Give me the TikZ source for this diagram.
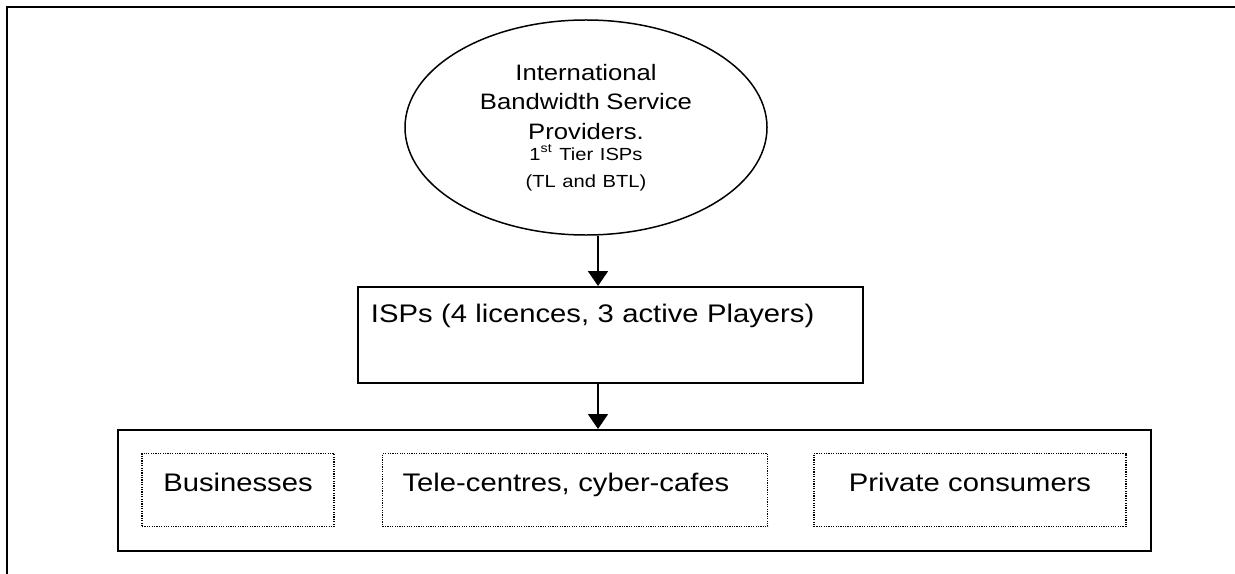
\documentclass[tikz,border=0pt]{standalone}
\usepackage{fontspec}
\setmainfont{Liberation Sans}[FakeStretch=1.15]
\usetikzlibrary{arrows.meta,shapes.geometric}
\begin{document}
\begin{tikzpicture}[x=0.5bp,y=-0.5bp,
  frameline/.style={line width=1pt},
  ellbox/.style={draw,ellipse,line width=0.75pt,inner sep=0pt,minimum width=181bp,minimum height=107.5bp,text width=120pt,align=center},
  ispbox/.style={draw,rectangle,line width=0.9pt,inner xsep=6.5bp,inner ysep=0pt,text width=239.5bp,align=left,text height=18bp,text depth=30bp,font=\fontsize{12.75pt}{15pt}\selectfont},
  outbox/.style={draw,rectangle,line width=0.9pt,inner sep=0pt,minimum width=516.5bp,minimum height=60.5bp},
  dotbox/.style={draw,rectangle,line width=0.6pt,dash pattern=on 0.6pt off 0.6pt,inner ysep=0pt,text height=19bp,text depth=17.5bp,font=\fontsize{12.75pt}{15pt}\selectfont},
  arr/.style={line width=0.9pt,-{Triangle[width=10pt,length=7.5pt]}}
]
\fill[white] (0,0) rectangle (1235,574);
\useasboundingbox (0,0) rectangle (1235,574);
% outer frame (top and left edges only)
\coordinate (fr) at (1235,7);
\coordinate (fc) at (7,7);
\coordinate (fb) at (7,574);
\draw[frameline] (fr) -- (fc) -- (fb);

\node[ellbox] (ell) at (586,127.5) {%
  {\fontsize{11.2pt}{14.75pt}\selectfont International\\Bandwidth Service\\Providers.\par}%
  \vspace{-3pt}%
  {\fontsize{8.8pt}{13.5pt}\selectfont 1\textsuperscript{st} Tier ISPs\\(TL and BTL)\par}};

\node[ispbox,anchor=north west] (isp) at (357,286) {ISPs (4 licences, 3 active Players)};

\node[outbox,anchor=north west] (out) at (117,429) {};

\node[dotbox,inner xsep=0pt,text width=96bp,align=center,anchor=base] (bus) at (238,491.5) {Businesses};
\node[dotbox,inner xsep=10bp,text width=172.5bp,align=left,anchor=base west] (tele) at (382,491.5) {Tele-centres, cyber-cafes};
\node[dotbox,inner xsep=0pt,text width=156bp,align=center,anchor=base] (priv) at (970,491.5) {Private consumers};

\draw[arr] ([xshift=6bp]ell.south) -- ([xshift=6bp]ell.south |- isp.north);
\coordinate (ax) at (598,0);
\draw[arr] (ax |- isp.south) -- (ax |- out.north);
\end{tikzpicture}
\end{document}
